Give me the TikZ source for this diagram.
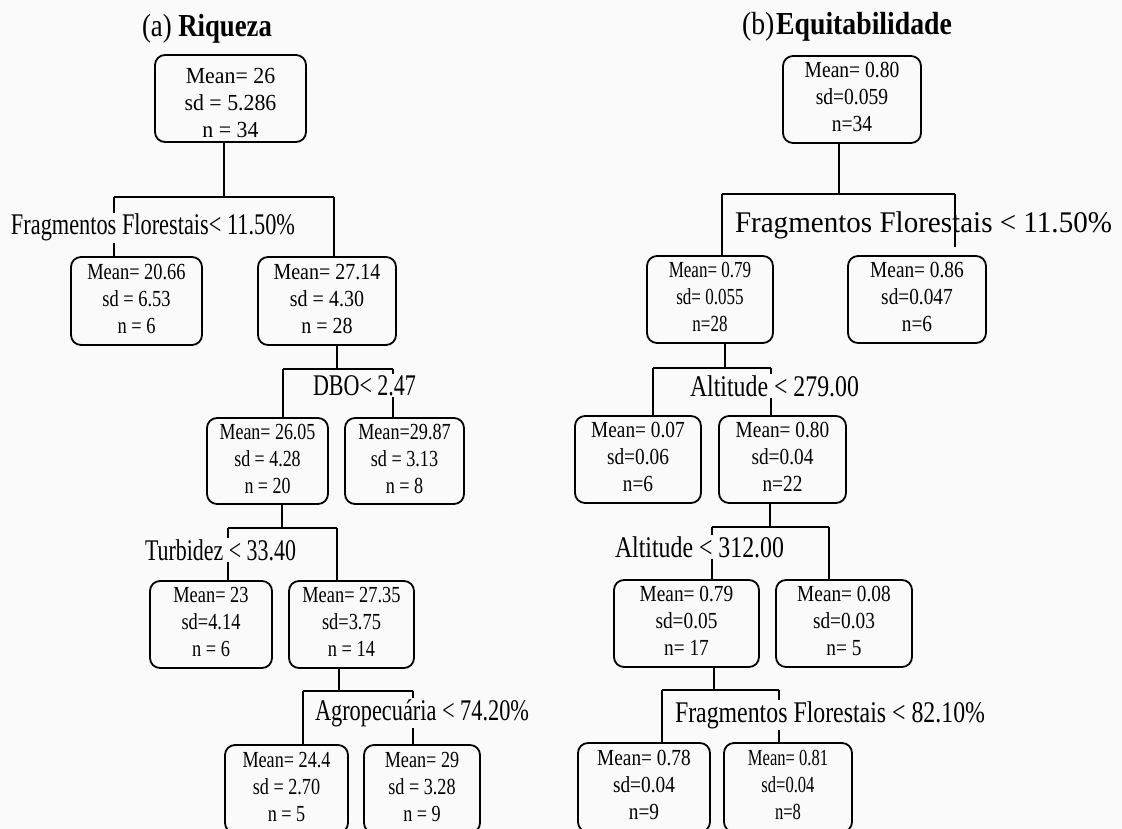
\documentclass[tikz,border=0pt]{standalone}
\usepackage{fontspec}
\setmainfont{Liberation Serif}
\usepackage{graphicx}
\definecolor{bgc}{RGB}{250,250,250}
\newcommand\bxt[4]{\scalebox{#1}[1]{\begin{tabular}{@{}c@{}}#2\\#3\\#4\end{tabular}}}
\newcommand\fitw[2]{\resizebox{#1pt}{\height}{#2}}
\begin{document}
\begin{tikzpicture}[x=1pt,y=-1pt,
  bx/.style={draw, line width=1.8pt, rounded corners=10pt, inner sep=0pt, font=\fontsize{23}{27}\selectfont},
  lbl/.style={anchor=base, font=\fontsize{30}{33}\selectfont, inner sep=1.5pt, fill=bgc},
  ttl/.style={anchor=base, font=\fontsize{32}{36}\selectfont, inner sep=0pt},
  cn/.style={line width=1.4pt}]
\fill[bgc] (0,0) rectangle (1122,829);
\useasboundingbox (0,0) rectangle (1122,829);

% titles
\node[ttl] (ta) at (207,37) {\fitw{130}{(a) \textbf{Riqueza}}};
\node[ttl] (tb) at (847,35) {\fitw{210}{(b)\hspace{2pt}\textbf{Equitabilidade}}};

% ---------- (a) Riqueza ----------
\node[bx, minimum width=151pt, minimum height=87pt] (a0) at (230.5,98.5) {\raisebox{-12.75pt}[0pt][0pt]{\bxt{0.95}{Mean= 26}{sd = 5.286}{n = 34}}};
\node[bx, minimum width=131pt, minimum height=88pt] (a1) at (136.5,301) {\bxt{0.8}{Mean= 20.66}{sd = 6.53}{n = 6}};
\node[bx, minimum width=138pt, minimum height=88pt] (a2) at (327,301) {\bxt{0.87}{Mean= 27.14}{sd = 4.30}{n = 28}};
\node[bx, minimum width=121pt, minimum height=86pt] (a3) at (267.5,461) {\bxt{0.78}{Mean= 26.05}{sd = 4.28}{n = 20}};
\node[bx, minimum width=119pt, minimum height=86pt] (a4) at (404.5,461) {\bxt{0.79}{Mean=29.87}{sd = 3.13}{n = 8}};
\node[bx, minimum width=122pt, minimum height=87pt] (a5) at (211,624.5) {\bxt{0.8}{Mean= 23}{sd=4.14}{n = 6}};
\node[bx, minimum width=125pt, minimum height=87pt] (a6) at (351.5,624.5) {\bxt{0.8}{Mean= 27.35}{sd=3.75}{n = 14}};
\node[bx, minimum width=123pt, minimum height=88pt] (a7) at (286.5,789) {\bxt{0.79}{Mean= 24.4}{sd = 2.70}{n = 5}};
\node[bx, minimum width=116pt, minimum height=88pt] (a8) at (422,789) {\bxt{0.79}{Mean= 29}{sd = 3.28}{n = 9}};

% split 1
\coordinate (s1T) at (224,197);
\coordinate (s1L) at (114,197);
\coordinate (s1R) at (334,197);
\draw[cn] (s1T |- a0.south) -- (s1T);
\draw[cn] (s1L) -- (s1R);
\draw[cn] (s1L) -- (s1L |- a1.north);
\draw[cn] (s1R) -- (s1R |- a2.north);
% split 2
\coordinate (s2T) at (337,369);
\coordinate (s2L) at (283,369);
\coordinate (s2R) at (393,369);
\draw[cn] (s2T |- a2.south) -- (s2T);
\draw[cn] (s2L) -- (s2R);
\draw[cn] (s2L) -- (s2L |- a3.north);
\draw[cn] (s2R) -- (s2R |- a4.north);
% split 3
\coordinate (s3T) at (282,528);
\coordinate (s3L) at (228,528);
\coordinate (s3R) at (337,528);
\draw[cn] (s3T |- a3.south) -- (s3T);
\draw[cn] (s3L) -- (s3R);
\draw[cn] (s3L) -- (s3L |- a5.north);
\draw[cn] (s3R) -- (s3R |- a6.north);
% split 4
\coordinate (s4T) at (339,691);
\coordinate (s4L) at (303,691);
\coordinate (s4R) at (413,691);
\draw[cn] (s4T |- a6.south) -- (s4T);
\draw[cn] (s4L) -- (s4R);
\draw[cn] (s4L) -- (s4L |- a7.north);
\draw[cn] (s4R) -- (s4R |- a8.north);

\node[lbl] (la1) at (153,235) {\fitw{284}{Fragmentos Florestais< 11.50\%}};
\node[lbl] (la2) at (364.5,395) {\fitw{103}{DBO< 2.47}};
\node[lbl] (la3) at (220.5,560) {\fitw{151}{Turbidez < 33.40}};
\node[lbl] (la4) at (422,720) {\fitw{214}{Agropecuária < 74.20\%}};

% ---------- (b) Equitabilidade ----------
\node[bx, minimum width=138pt, minimum height=87pt] (b0) at (852,99.5) {\bxt{0.85}{Mean= 0.80}{sd=0.059}{n=34}};
\node[bx, minimum width=126pt, minimum height=87pt] (b1) at (710,299.5) {\bxt{0.74}{Mean= 0.79}{sd= 0.055}{n=28}};
\node[bx, minimum width=138pt, minimum height=87pt] (b2) at (917,299.5) {\bxt{0.84}{Mean= 0.86}{sd=0.047}{n=6}};
\node[bx, minimum width=126pt, minimum height=87pt] (b3) at (638,459.5) {\bxt{0.84}{Mean= 0.07}{sd=0.06}{n=6}};
\node[bx, minimum width=127pt, minimum height=87pt] (b4) at (782.5,459.5) {\bxt{0.84}{Mean= 0.80}{sd=0.04}{n=22}};
\node[bx, minimum width=145pt, minimum height=87pt] (b5) at (686.5,623.5) {\bxt{0.84}{Mean= 0.79}{sd=0.05}{n= 17}};
\node[bx, minimum width=136pt, minimum height=87pt] (b6) at (844,623.5) {\bxt{0.84}{Mean= 0.08}{sd=0.03}{n= 5}};
\node[bx, minimum width=132pt, minimum height=89pt] (b7) at (644,787.5) {\bxt{0.84}{Mean= 0.78}{sd=0.04}{n=9}};
\node[bx, minimum width=128pt, minimum height=89pt] (b8) at (788,787.5) {\bxt{0.72}{Mean= 0.81}{sd=0.04}{n=8}};

\node[lbl, fill=none] (lb1) at (923.5,233) {\fitw{377}{Fragmentos Florestais < 11.50\%}};

% split 1
\coordinate (t1T) at (839,194);
\coordinate (t1L) at (722,194);
\coordinate (t1R) at (955,194);
\draw[cn] (t1T |- b0.south) -- (t1T);
\draw[cn] (t1L) -- (t1R);
\draw[cn] (t1L) -- (t1L |- b1.north);
\draw[cn, shorten >=8pt] (t1R) -- (t1R |- b2.north);
% split 2
\coordinate (t2T) at (725,368);
\coordinate (t2L) at (653,368);
\coordinate (t2R) at (771,368);
\draw[cn] (t2T |- b1.south) -- (t2T);
\draw[cn] (t2L) -- (t2R);
\draw[cn] (t2L) -- (t2L |- b3.north);
\draw[cn] (t2R) -- (t2R |- b4.north);
% split 3
\coordinate (t3T) at (770,527);
\coordinate (t3L) at (712,527);
\coordinate (t3R) at (829,527);
\draw[cn] (t3T |- b4.south) -- (t3T);
\draw[cn] (t3L) -- (t3R);
\draw[cn] (t3L) -- (t3L |- b5.north);
\draw[cn] (t3R) -- (t3R |- b6.north);
% split 4
\coordinate (t4T) at (714,690);
\coordinate (t4L) at (662,690);
\coordinate (t4R) at (779,690);
\draw[cn] (t4T |- b5.south) -- (t4T);
\draw[cn] (t4L) -- (t4R);
\draw[cn] (t4L) -- (t4L |- b7.north);
\draw[cn] (t4R) -- (t4R |- b8.north);

\node[lbl] (lb2) at (774.5,396) {\fitw{169}{Altitude < 279.00}};
\node[lbl] (lb3) at (699.5,557) {\fitw{169}{Altitude < 312.00}};
\node[lbl] (lb4) at (830,722) {\fitw{310}{Fragmentos Florestais < 82.10\%}};
\end{tikzpicture}
\end{document}
